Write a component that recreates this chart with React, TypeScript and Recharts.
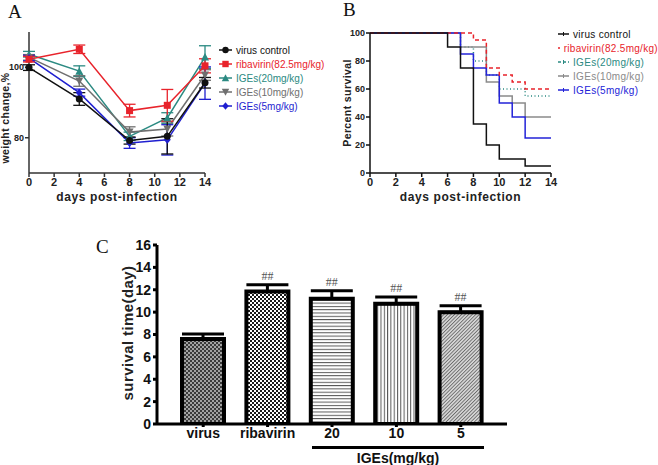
import {
    LineChart,
    Line,
    BarChart,
    Bar,
    Cell,
    XAxis,
    YAxis,
    ErrorBar,
    LabelList,
    Legend
} from 'recharts';

const SANS = '"Liberation Sans", Arial, sans-serif';
const SERIF = '"Liberation Serif", "Times New Roman", serif';

// ---- panel A: body weight change ----
const weightDays = [0, 4, 8, 11, 14];
const virusWeight = [99.9, 91.0, 79.2, 80.4, 95.6];
const virusWeightErr = [0.8, 1.8, 1.0, 5.0, 1.5];
const ribaWeight = [102.3, 105.1, 87.7, 89.2, 100.4];
const ribaWeightErr = [0.8, 1.2, 1.8, 4.5, 2.0];
const iges20Weight = [103.7, 98.9, 80.4, 85.6, 102.9];
const iges20WeightErr = [0.8, 1.5, 1.2, 1.5, 3.2];
const iges10Weight = [102.8, 96.1, 81.6, 82.5, 97.8];
const iges10WeightErr = [0.8, 1.5, 1.5, 2.0, 1.5];
const iges5Weight = [102.6, 92.8, 78.5, 79.4, 95.5];
const iges5WeightErr = [0.8, 1.0, 1.5, 4.3, 4.6];

// ---- panel B: survival ----
const survDays = [0, 1, 2, 3, 4, 5, 6, 7, 8, 9, 10, 11, 12, 13, 14];
const virusSurv = [100, 100, 100, 100, 100, 100, 90, 75, 35, 20, 10, 10, 5, 5, 5];
const ribaSurv = [100, 100, 100, 100, 100, 100, 100, 100, 95, 75, 70, 65, 60, 60, 60];
const iges20Surv = [100, 100, 100, 100, 100, 100, 100, 90, 80, 70, 60, 60, 55, 55, 55];
const iges10Surv = [100, 100, 100, 100, 100, 100, 100, 90, 90, 65, 55, 50, 40, 40, 40];
const iges5Surv = [100, 100, 100, 100, 100, 100, 100, 85, 75, 70, 50, 40, 25, 25, 25];

// ---- panel C: survival time ----
const groups = ['virus', 'ribavirin', '20', '10', '5'];
const survTime = [7.6, 11.85, 11.2, 10.75, 10.0];
const survTimeErr = [0.45, 0.6, 0.7, 0.6, 0.57];
const sigMarks = ['', '##', '##', '##', '##'];

const seriesNames = ['virus control', 'ribavirin(82.5mg/kg)', 'IGEs(20mg/kg)', 'IGEs(10mg/kg)', 'IGEs(5mg/kg)'];

const seriesA = [
    { key: 'virus', name: seriesNames[0], color: '#111111', shape: 'circle' },
    { key: 'riba', name: seriesNames[1], color: '#e8232b', shape: 'square' },
    { key: 'i20', name: seriesNames[2], color: '#2b8a82', shape: 'up' },
    { key: 'i10', name: seriesNames[3], color: '#6f6f6f', shape: 'down' },
    { key: 'i5', name: seriesNames[4], color: '#1f1fd0', shape: 'diamond' },
];

const seriesB = [
    { key: 'virus', name: seriesNames[0], color: '#111111', dash: undefined },
    { key: 'riba', name: seriesNames[1], color: '#e8232b', dash: '4 3' },
    { key: 'i20', name: seriesNames[2], color: '#2b8a82', dash: '1 2.5' },
    { key: 'i10', name: seriesNames[3], color: '#8a8a8a', dash: undefined },
    { key: 'i5', name: seriesNames[4], color: '#2323d8', dash: undefined },
];

const weightData = weightDays.map((d, i) => ({
    day: d,
    virus: virusWeight[i], virusErr: virusWeightErr[i],
    riba: ribaWeight[i], ribaErr: ribaWeightErr[i],
    i20: iges20Weight[i], i20Err: iges20WeightErr[i],
    i10: iges10Weight[i], i10Err: iges10WeightErr[i],
    i5: iges5Weight[i], i5Err: iges5WeightErr[i],
}));

const survData = survDays.map((d, i) => ({
    day: d,
    virus: virusSurv[i],
    riba: ribaSurv[i],
    i20: iges20Surv[i],
    i10: iges10Surv[i],
    i5: iges5Surv[i],
}));

const timeData = groups.map((g, i) => ({
    name: g,
    mean: survTime[i],
    err: [0, survTimeErr[i]],
    gap: survTimeErr[i],
    sig: sigMarks[i],
}));

const patternIds = ['pVirus', 'pRiba', 'pHoriz', 'pVert', 'pDiag'];

function Marker({ cx, cy, shape, color, s = 3.5 }: any) {
    if (cx == null || cy == null) return null;
    if (shape === 'circle') return <circle cx={cx} cy={cy} r={s} fill={color} />;
    if (shape === 'square') return <rect x={cx - s} y={cy - s} width={s * 2} height={s * 2} fill={color} />;
    if (shape === 'up')
        return <polygon points={`${cx},${cy - s - 0.5} ${cx - s - 0.5},${cy + s} ${cx + s + 0.5},${cy + s}`} fill={color} />;
    if (shape === 'down')
        return <polygon points={`${cx},${cy + s + 0.5} ${cx - s - 0.5},${cy - s} ${cx + s + 0.5},${cy - s}`} fill={color} />;
    return <polygon points={`${cx},${cy - s - 0.5} ${cx + s},${cy} ${cx},${cy + s + 0.5} ${cx - s},${cy}`} fill={color} />;
}

function LegendA() {
    return (
        <div style={{ fontFamily: SANS, fontSize: 10 }}>
            {seriesA.map(s => (
                <div key={s.key} style={{ display: 'flex', alignItems: 'center', height: 14 }}>
                    <svg width={13} height={10}>
                        <line x1={0} y1={5} x2={13} y2={5} stroke={s.color} strokeWidth={1.5} />
                        <Marker cx={6.5} cy={5} shape={s.shape} color={s.color} s={3.2} />
                    </svg>
                    <span style={{ marginLeft: 4, color: s.color, whiteSpace: 'nowrap' }}>{s.name}</span>
                </div>
            ))}
        </div>
    );
}

function LegendB() {
    return (
        <div style={{ fontFamily: SANS, fontSize: 10, letterSpacing: 0.3 }}>
            {seriesB.map(s => (
                <div key={s.key} style={{ display: 'flex', alignItems: 'center', height: 14 }}>
                    <svg width={11} height={10}>
                        <line x1={0} y1={5} x2={11} y2={5} stroke={s.color} strokeWidth={1.5} strokeDasharray={s.dash ? '3 2' : undefined} />
                        <line x1={5.5} y1={3} x2={5.5} y2={7} stroke={s.color} strokeWidth={1} />
                    </svg>
                    <span style={{ marginLeft: 4, color: s.color, whiteSpace: 'nowrap' }}>{s.name}</span>
                </div>
            ))}
        </div>
    );
}

function VTitle({ x, y, text, size }: any) {
    return (
        <div style={{
            position: 'absolute', left: x, top: y, transform: 'translate(-50%, -50%) rotate(-90deg)',
            whiteSpace: 'nowrap', fontFamily: SANS, fontWeight: 'bold', fontSize: size, color: '#222', letterSpacing: 0.4
        }}>{text}</div>
    );
}

function PanelLetter({ x, y, text }: any) {
    return <div style={{ position: 'absolute', left: x, top: y, fontFamily: SERIF, fontSize: 19, lineHeight: '19px', color: '#111' }}>{text}</div>;
}

const tickA = { fontFamily: SANS, fontWeight: 'bold', fontSize: 11, fill: '#222' };
const tickAy = { fontFamily: SANS, fontWeight: 'bold', fontSize: 9, fill: '#222' };
const tickC = { fontFamily: SANS, fontWeight: 'bold', fontSize: 14, fill: '#111' };

export default function App() {
    // draw order for layering (bottom first)
    const orderA = [2, 3, 4, 0, 1];
    const orderB = [2, 3, 4, 1, 0];
    return (
        <div style={{ position: 'absolute', left: 0, top: 0, width: 658, height: 465, background: '#fff', overflow: 'hidden' }}>
            <PanelLetter x={8} y={2} text="A" />
            <PanelLetter x={343} y={0} text="B" />
            <PanelLetter x={96} y={237} text="C" />

            {/* A */}
            <div style={{ position: 'absolute', left: 0, top: 0 }}>
                <LineChart width={330} height={210} data={weightData} margin={{ top: 32, right: 125, bottom: 0, left: 0 }}>
                    <XAxis
                        dataKey="day"
                        type="number"
                        domain={[0, 14]}
                        ticks={[0, 2, 4, 6, 8, 10, 12, 14]}
                        height={37}
                        stroke="#333"
                        strokeWidth={1.5}
                        tickSize={4}
                        tickMargin={1}
                        tick={tickA}
                        label={{ value: 'days post-infection', position: 'insideBottom', offset: 9, style: { ...tickA, fontSize: 12, letterSpacing: 0.6 } }}
                    />
                    <YAxis
                        type="number"
                        domain={[70, 110]}
                        ticks={[80, 100]}
                        width={29}
                        stroke="#333"
                        strokeWidth={1.5}
                        tickSize={4}
                        tickMargin={1}
                        tick={tickAy}
                    />
                    {orderA.map(i => {
                        const s = seriesA[i];
                        return (
                            <Line
                                key={s.key}
                                dataKey={s.key}
                                name={s.name}
                                stroke={s.color}
                                strokeWidth={1.5}
                                isAnimationActive={false}
                                dot={(p: any) => <Marker key={`${s.key}-${p.index}`} cx={p.cx} cy={p.cy} shape={s.shape} color={s.color} />}
                            >
                                <ErrorBar dataKey={`${s.key}Err`} width={6} strokeWidth={1.3} stroke={s.color} direction="y" />
                            </Line>
                        );
                    })}
                    <Legend
                        layout="horizontal"
                        verticalAlign="middle"
                        align="center"
                        content={() => <LegendA />}
                        wrapperStyle={{ left: 219, top: 43, width: 112, height: 70 }}
                    />
                </LineChart>
            </div>
            <VTitle x={5} y={118} text="weight change,%" size={10.5} />

            {/* B */}
            <div style={{ position: 'absolute', left: 330, top: 0 }}>
                <LineChart width={328} height={210} data={survData} margin={{ top: 33, right: 107, bottom: 0, left: 0 }}>
                    <XAxis
                        dataKey="day"
                        type="number"
                        domain={[0, 14]}
                        ticks={[0, 2, 4, 6, 8, 10, 12, 14]}
                        height={37}
                        stroke="#111"
                        strokeWidth={1.5}
                        tickSize={4}
                        tickMargin={1}
                        tick={tickA}
                        label={{ value: 'days post-infection', position: 'insideBottom', offset: 9, style: { ...tickA, fontSize: 12, letterSpacing: 0.6 } }}
                    />
                    <YAxis
                        type="number"
                        domain={[0, 100]}
                        ticks={[0, 20, 40, 60, 80, 100]}
                        width={40}
                        stroke="#111"
                        strokeWidth={1.5}
                        tickSize={4}
                        tickMargin={1}
                        tick={tickAy}
                    />
                    {orderB.map(i => {
                        const s = seriesB[i];
                        return (
                            <Line
                                key={s.key}
                                type="stepAfter"
                                dataKey={s.key}
                                name={s.name}
                                stroke={s.color}
                                strokeWidth={1.5}
                                strokeDasharray={s.dash}
                                dot={false}
                                isAnimationActive={false}
                            />
                        );
                    })}
                    <Legend
                        layout="horizontal"
                        verticalAlign="middle"
                        align="center"
                        content={() => <LegendB />}
                        wrapperStyle={{ left: 228, top: 27, width: 100, height: 70 }}
                    />
                </LineChart>
            </div>
            <VTitle x={347} y={103} text="Percent survival" size={10.5} />

            {/* C */}
            <div style={{ position: 'absolute', left: 100, top: 230 }}>
                <BarChart width={420} height={215} data={timeData} margin={{ top: 15, right: 13, bottom: 0, left: 0 }} barSize={42}>
                    <defs>
                        <pattern id="pVirus" width={4} height={4} patternUnits="userSpaceOnUse">
                            <rect width={4} height={4} fill="#a2a2a2" />
                            <rect x={0} y={0} width={2} height={2} fill="#3a3a3a" />
                            <rect x={2} y={2} width={2} height={2} fill="#3a3a3a" />
                        </pattern>
                        <pattern id="pRiba" width={4} height={4} patternUnits="userSpaceOnUse">
                            <rect width={4} height={4} fill="#ffffff" />
                            <rect x={0} y={0} width={2} height={2} fill="#1a1a1a" />
                            <rect x={2} y={2} width={2} height={2} fill="#1a1a1a" />
                        </pattern>
                        <pattern id="pHoriz" width={4} height={3.3} patternUnits="userSpaceOnUse">
                            <rect width={4} height={3.3} fill="#ffffff" />
                            <rect x={0} y={0} width={4} height={1} fill="#555" />
                        </pattern>
                        <pattern id="pVert" width={3.3} height={4} patternUnits="userSpaceOnUse">
                            <rect width={3.3} height={4} fill="#ffffff" />
                            <rect x={0} y={0} width={1} height={4} fill="#555" />
                        </pattern>
                        <pattern id="pDiag" width={2.5} height={2.5} patternUnits="userSpaceOnUse" patternTransform="rotate(45)">
                            <rect width={2.5} height={2.5} fill="#d8d8d8" />
                            <rect x={0} y={0} width={0.9} height={2.5} fill="#6a6a6a" />
                        </pattern>
                    </defs>
                    <XAxis
                        dataKey="name"
                        padding={{ left: 14, right: 14 }}
                        height={21}
                        stroke="#000"
                        strokeWidth={3}
                        tickSize={3}
                        tickMargin={1}
                        tick={tickC}
                        interval={0}
                    />
                    <YAxis
                        type="number"
                        domain={[0, 16]}
                        ticks={[0, 2, 4, 6, 8, 10, 12, 14, 16]}
                        allowDataOverflow
                        width={57}
                        stroke="#000"
                        strokeWidth={3}
                        tickSize={4}
                        tickMargin={2}
                        tick={tickC}
                    />
                    <Bar dataKey="mean" stackId="s" stroke="#000" strokeWidth={4} isAnimationActive={false}>
                        {timeData.map((d, i) => (
                            <Cell key={d.name} fill={`url(#${patternIds[i]})`} />
                        ))}
                        <ErrorBar dataKey="err" width={21} strokeWidth={3} stroke="#000" direction="y" />
                    </Bar>
                    <Bar dataKey="gap" stackId="s" fill="none" stroke="none" isAnimationActive={false}>
                        <LabelList dataKey="sig" position="top" offset={5} style={{ fontFamily: SERIF, fontSize: 12, fill: '#555' }} />
                    </Bar>
                </BarChart>
            </div>
            <VTitle x={127} y={333} text="survival time(day)" size={15} />
            <div style={{ position: 'absolute', left: 312, top: 446, width: 172, height: 3, background: '#000' }} />
            <div style={{ position: 'absolute', left: 312, top: 450, width: 172, textAlign: 'center', fontFamily: SANS, fontWeight: 'bold', fontSize: 14, color: '#111' }}>
                IGEs(mg/kg)
            </div>
        </div>
    );
}
